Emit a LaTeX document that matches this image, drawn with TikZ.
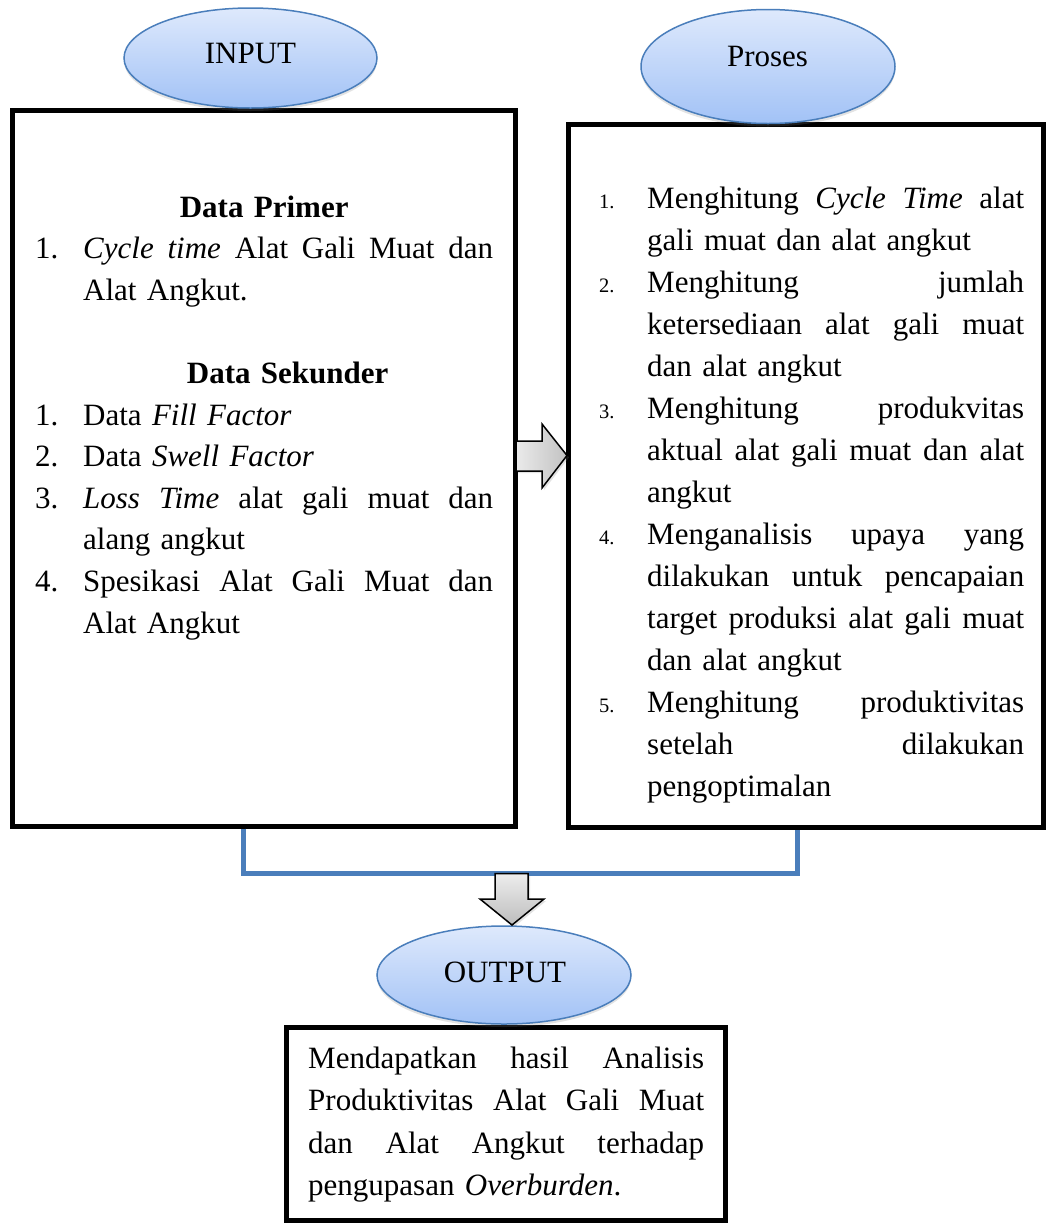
\documentclass[tikz,border=0pt]{standalone}
\usepackage{fontspec}
\setmainfont{Liberation Serif}
\usetikzlibrary{shapes.geometric,shadows,calc}
\definecolor{ellborder}{RGB}{74,126,187}
\definecolor{elltop}{RGB}{222,233,252}
\definecolor{ellbot}{RGB}{162,194,246}
\definecolor{bracketblue}{RGB}{74,126,187}
\newcommand\rnum[1]{\makebox[48pt][l]{\fontsize{20.5}{42}\selectfont #1}}
\newcommand\lnum[1]{\makebox[48pt][l]{#1}}
\newcommand\jbox[2]{\leavevmode\hbox to #1{#2}}
\begin{document}
\begin{tikzpicture}[x=1pt,y=-1pt,
  framebox/.style={draw=black, line width=5pt, rectangle, inner sep=0pt},
  ell/.style={ellipse, draw=ellborder, line width=1.5pt, top color=elltop, bottom color=ellbot,
    inner sep=0pt, drop shadow={opacity=0.22, shadow xshift=0pt, shadow yshift=-3pt}},
  lab/.style={font=\fontsize{31}{40}\selectfont, inner sep=0pt, anchor=base},
  txt/.style={anchor=base west, inner sep=0pt, font=\fontsize{31}{41.6}\selectfont},
  txtr/.style={anchor=base west, inner sep=0pt, font=\fontsize{31}{42}\selectfont},
  blockarrow/.style={draw=black, line width=1.5pt, line join=miter,
    drop shadow={opacity=0.22, shadow xshift=2pt, shadow yshift=-2pt}},
  bracketline/.style={draw=bracketblue, line width=5pt, line join=miter}
]
\useasboundingbox (0,0) rectangle (1046,1224);
\fill[white] (0,0) rectangle (1046,1224);

% boxes
\node[framebox, minimum width=503pt, minimum height=715.5pt] (lbox) at (264,468.25) {};
\node[framebox, minimum width=475pt, minimum height=702.5pt] (rbox) at (806,475.75) {};
\node[framebox, minimum width=439.5pt, minimum height=193pt] (obox) at (505.75,1124) {};

% ellipses
\node[ell, minimum width=253pt, minimum height=100pt] (inE) at (250.5,58) {};
\node[lab] (inT) at (250.5,63) {INPUT};
\node[ell, minimum width=254pt, minimum height=114pt] (prE) at (768,66.5) {};
\node[lab] (prT) at (767.5,66) {Proses};
\node[ell, minimum width=254pt, minimum height=98pt] (outE) at (504,975) {};
\node[lab] (outT) at (505,982) {OUTPUT};

% left box text
\node[txt, text width=458pt] (ltxt) at (35,217) {%
\makebox[458pt][c]{\textbf{Data Primer}}\\
\lnum{1.}\jbox{410pt}{\textit{Cycle}\hfill\textit{time}\hfill Alat\hfill Gali\hfill Muat\hfill dan}\\
\hspace*{48pt}Alat Angkut.\\
\mbox{}\\
\hspace*{47pt}\makebox[411pt][c]{\textbf{Data Sekunder}}\\
\lnum{1.}Data \textit{Fill Factor}\\
\lnum{2.}Data \textit{Swell Factor}\\
\lnum{3.}\jbox{410pt}{\textit{Loss}\hfill\textit{Time}\hfill alat\hfill gali\hfill muat\hfill dan}\\
\hspace*{48pt}alang angkut\\
\lnum{4.}\jbox{410pt}{Spesikasi\hfill Alat\hfill Gali\hfill Muat\hfill dan}\\
\hspace*{48pt}Alat Angkut};

% right box text
\node[txtr, text width=425pt] (rtxt) at (599,208) {%
\rnum{1.}\jbox{377pt}{Menghitung\hfill\textit{Cycle}\hfill\textit{Time}\hfill alat}\\
\hspace*{48pt}gali muat dan alat angkut\\
\rnum{2.}\jbox{377pt}{Menghitung\hfill jumlah}\\
\hspace*{48pt}\jbox{377pt}{ketersediaan\hfill alat\hfill gali\hfill muat}\\
\hspace*{48pt}dan alat angkut\\
\rnum{3.}\jbox{377pt}{Menghitung\hfill produkvitas}\\
\hspace*{48pt}\jbox{377pt}{aktual\hfill alat\hfill gali\hfill muat\hfill dan\hfill alat}\\
\hspace*{48pt}angkut\\
\rnum{4.}\jbox{377pt}{Menganalisis\hfill upaya\hfill yang}\\
\hspace*{48pt}\jbox{377pt}{dilakukan\hfill untuk\hfill pencapaian}\\
\hspace*{48pt}\jbox{377pt}{target\hfill produksi\hfill alat\hfill gali\hfill muat}\\
\hspace*{48pt}dan alat angkut\\
\rnum{5.}\jbox{377pt}{Menghitung\hfill produktivitas}\\
\hspace*{48pt}\jbox{377pt}{setelah\hfill dilakukan}\\
\hspace*{48pt}pengoptimalan};

% output box text
\node[txt, font=\fontsize{31}{42.5}\selectfont, text width=396pt] (otxt) at (308,1068) {%
\jbox{396pt}{Mendapatkan\hfill hasil\hfill Analisis}\\
\jbox{396pt}{Produktivitas\hfill Alat\hfill Gali\hfill Muat}\\
\jbox{396pt}{dan\hfill Alat\hfill Angkut\hfill terhadap}\\
pengupasan \textit{Overburden}.};

% right block arrow between boxes
\path[blockarrow, left color=white!92!black, right color=white!76!black]
  (516,441) -- (542,441) -- (542,424) -- (567,455.5) -- (542,488) -- (542,471) -- (516,471) -- cycle;

% bracket connecting both boxes
\draw[bracketline] ($(lbox.south)+(-21,0)$) -- ++(0,45) -| ($(rbox.south)+(-9,0)$);

% down block arrow to output
\path[blockarrow, top color=white!93!black, bottom color=white!74!black]
  (495,873.5) -- (528,873.5) -- (528,899) -- (544,899) -- (512,925) -- (480,899) -- (495,899) -- cycle;
\end{tikzpicture}
\end{document}
